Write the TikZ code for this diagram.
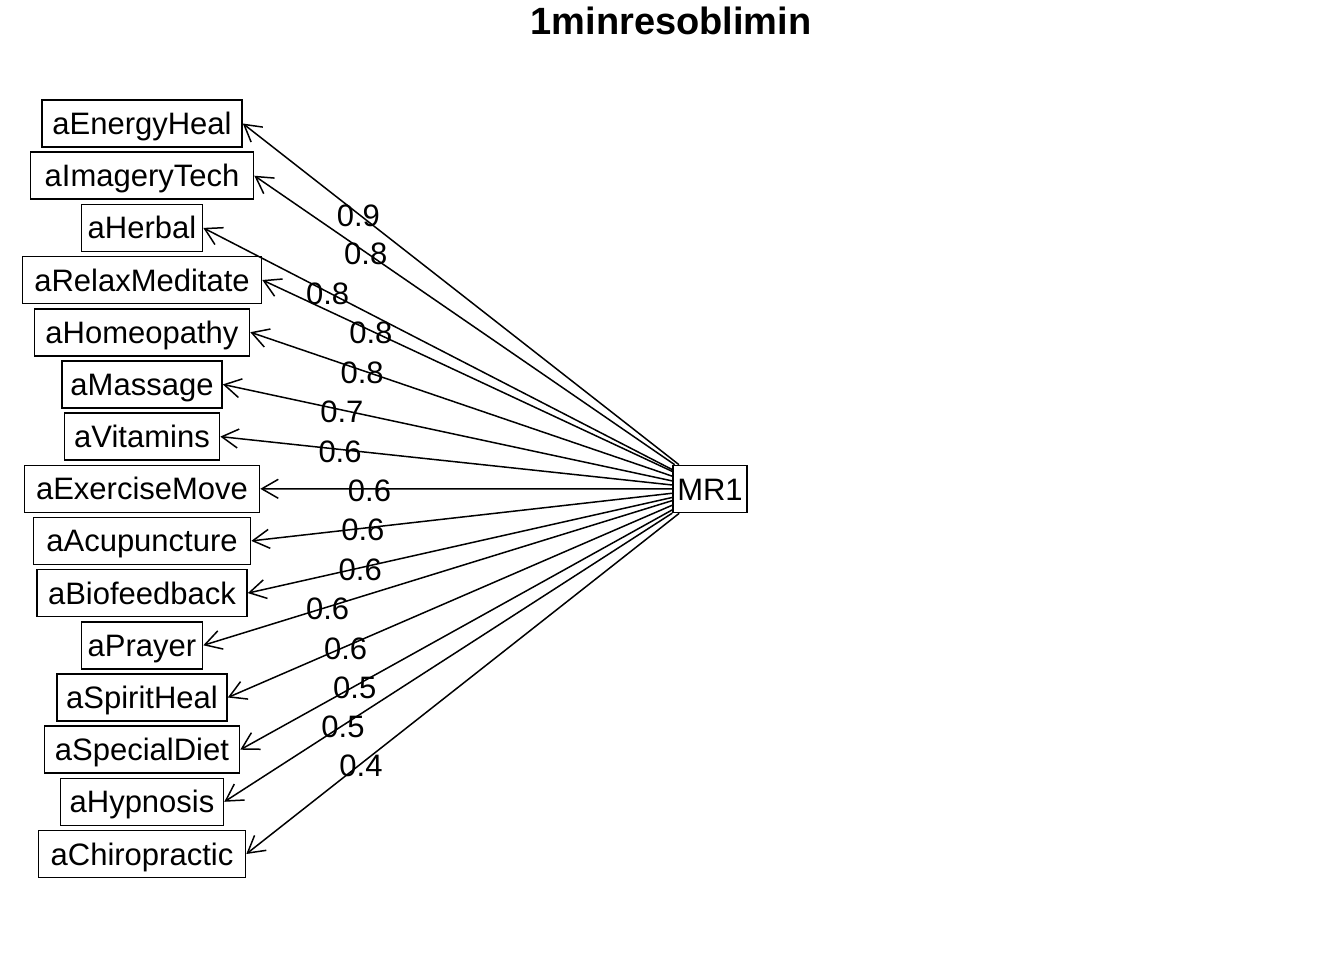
\documentclass[tikz,border=0pt]{standalone}
\usepackage{fontspec}
\setmainfont{Liberation Sans}
\usetikzlibrary{arrows.meta}
\begin{document}
\begin{tikzpicture}[x=1pt,y=-1pt,
  varbox/.style={draw, line width=1.6pt, minimum height=47pt, inner sep=0pt,
    text height=22pt, text depth=0pt, font=\fontsize{31}{37}\selectfont},
  load/.style={line width=1.5pt, -{Straight Barb[length=16.5pt,width=19pt,line width=1.5pt]}},
  lbl/.style={inner sep=0pt, font=\fontsize{31}{37}\selectfont, pos=0.735, yshift=-2pt}]
\useasboundingbox (0,0) rectangle (1344,960);

% title
\node[font=\fontsize{38}{44}\selectfont\bfseries, text height=27pt, text depth=0pt, inner sep=0pt]
  (title) at (671,21) {1minresoblimin};

% factor
\node[varbox, minimum width=74pt] (MR1) at (710,489) {MR1};

% observed variables
\node[varbox, minimum width=200pt] (EnergyHeal)   at (142,123.5) {aEnergyHeal};
\node[varbox, minimum width=223pt] (ImageryTech)  at (142,175.7) {aImageryTech};
\node[varbox, minimum width=121pt] (Herbal)       at (142,227.9) {aHerbal};
\node[varbox, minimum width=239pt] (RelaxMed)     at (142,280.0) {aRelaxMeditate};
\node[varbox, minimum width=215pt] (Homeopathy)   at (142,332.2) {aHomeopathy};
\node[varbox, minimum width=160pt] (Massage)      at (142,384.4) {aMassage};
\node[varbox, minimum width=155pt] (Vitamins)     at (142,436.6) {aVitamins};
\node[varbox, minimum width=235pt] (ExerciseMove) at (142,488.8) {aExerciseMove};
\node[varbox, minimum width=217pt] (Acupuncture)  at (142,540.9) {aAcupuncture};
\node[varbox, minimum width=210pt] (Biofeedback)  at (142,593.1) {aBiofeedback};
\node[varbox, minimum width=121pt] (Prayer)       at (142,645.3) {aPrayer};
\node[varbox, minimum width=170pt] (SpiritHeal)   at (142,697.5) {aSpiritHeal};
\node[varbox, minimum width=195pt] (SpecialDiet)  at (142,749.7) {aSpecialDiet};
\node[varbox, minimum width=163pt] (Hypnosis)     at (142,801.8) {aHypnosis};
\node[varbox, minimum width=207pt] (Chiropractic) at (142,854.0) {aChiropractic};

% loadings
\draw[load] (MR1) -- (EnergyHeal.east)   node[lbl] {0.9};
\draw[load] (MR1) -- (ImageryTech.east)  node[lbl] {0.8};
\draw[load] (MR1) -- (Herbal.east)       node[lbl] {0.8};
\draw[load] (MR1) -- (RelaxMed.east)     node[lbl] {0.8};
\draw[load] (MR1) -- (Homeopathy.east)   node[lbl] {0.8};
\draw[load] (MR1) -- (Massage.east)      node[lbl] {0.7};
\draw[load] (MR1) -- (Vitamins.east)     node[lbl] {0.6};
\draw[load] (MR1) -- (ExerciseMove.east) node[lbl] {0.6};
\draw[load] (MR1) -- (Acupuncture.east)  node[lbl] {0.6};
\draw[load] (MR1) -- (Biofeedback.east)  node[lbl] {0.6};
\draw[load] (MR1) -- (Prayer.east)       node[lbl] {0.6};
\draw[load] (MR1) -- (SpiritHeal.east)   node[lbl] {0.6};
\draw[load] (MR1) -- (SpecialDiet.east)  node[lbl] {0.5};
\draw[load] (MR1) -- (Hypnosis.east)     node[lbl] {0.5};
\draw[load] (MR1) -- (Chiropractic.east) node[lbl] {0.4};
\end{tikzpicture}
\end{document}
